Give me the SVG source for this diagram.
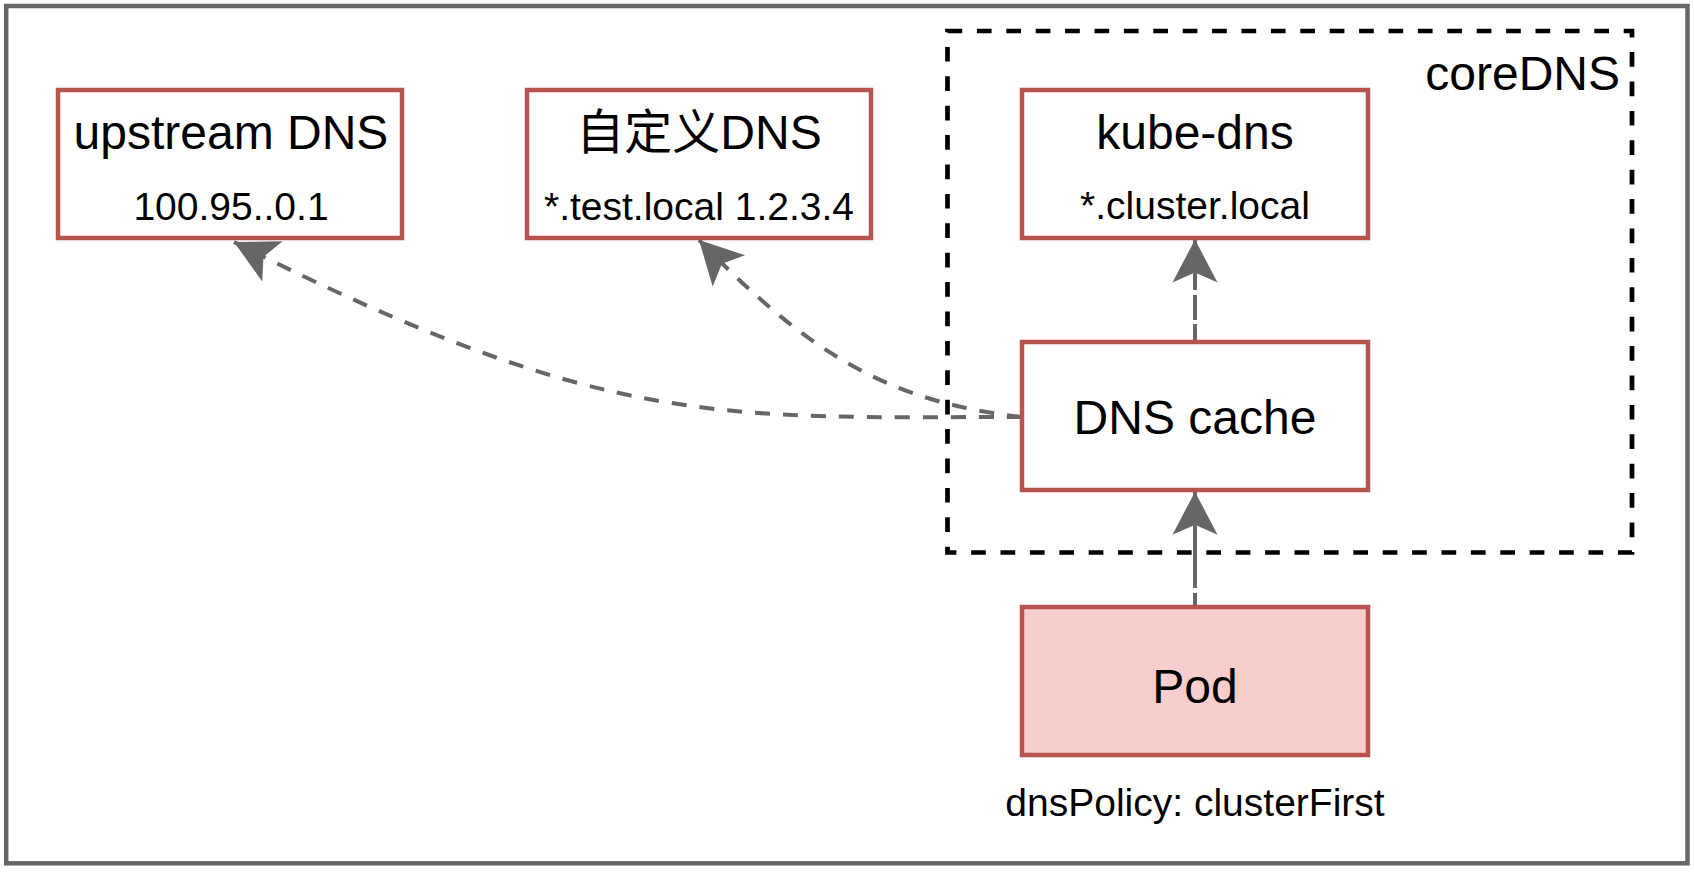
<svg xmlns="http://www.w3.org/2000/svg" width="1694" height="872" viewBox="0 0 1694 872">
<defs>
<style>
.node{fill:#ffffff;stroke:#b85450;stroke-width:4.5}
.pod{fill:#f8cecc;stroke:#b85450;stroke-width:4.5}
.edge{fill:none;stroke:#666666;stroke-width:4}
.dash{stroke-dasharray:15 13}
text{font-family:"Liberation Sans","Noto Sans CJK SC",Arial,sans-serif;fill:#000000;text-anchor:middle}
.t1{font-size:48px}
.t2{font-size:39px}
</style>
<marker id="arrow" markerUnits="userSpaceOnUse" viewBox="-45 -25 47 50" markerWidth="47" markerHeight="50" refX="0" refY="0" orient="auto">
<path d="M0,0 L-43,-22.5 L-33,0 L-43,22.5 Z" fill="#666666"/>
</marker>
</defs>
<rect x="0" y="0" width="1694" height="872" fill="#ffffff"/>
<g id="frame">
<rect x="6.2" y="6" width="1681.3" height="857.3" fill="#ffffff" stroke="#666666" stroke-width="4.5"/>
</g>
<g id="coreDNS">
<rect x="947.5" y="31" width="684.5" height="521.5" fill="none" stroke="#000000" stroke-width="4.7" stroke-dasharray="14.7 14.7"/>
<text class="t1" x="1620" y="90" style="text-anchor:end">coreDNS</text>
</g>
<g id="connectors">
<path id="e-cache-upstream" class="edge dash" d="M1022,417 C722,417 608,431 234,242" marker-end="url(#arrow)"/>
<path id="e-cache-custom" class="edge dash" d="M1022,417 C890,402 810,355 699,240" marker-end="url(#arrow)"/>
<path id="e-cache-kube" class="edge" d="M1195,342 L1195,239.5" stroke-dasharray="18 4 25 5 300 0" marker-end="url(#arrow)"/>
<path id="e-pod-cache" class="edge" d="M1195,607 L1195,491.7" stroke-dasharray="14 5 300 0" marker-end="url(#arrow)"/>
</g>
<g id="upstream-dns">
<rect class="node" x="58" y="90" width="344" height="148"/>
<text class="t1" x="231" y="149">upstream DNS</text>
<text class="t2" x="231" y="220">100.95..0.1</text>
</g>
<g id="custom-dns">
<rect class="node" x="527" y="90" width="344" height="148"/>
<text class="t1" x="699" y="149">自定义DNS</text>
<text class="t2" x="699" y="220">*.test.local 1.2.3.4</text>
</g>
<g id="kube-dns">
<rect class="node" x="1022" y="90" width="346" height="148"/>
<text class="t1" x="1195" y="149">kube-dns</text>
<text class="t2" x="1195" y="219">*.cluster.local</text>
</g>
<g id="dns-cache">
<rect class="node" x="1022" y="342" width="346" height="148"/>
<text class="t1" x="1195" y="434">DNS cache</text>
</g>
<g id="pod">
<rect class="pod" x="1022" y="607" width="346" height="148"/>
<text class="t1" x="1195" y="703">Pod</text>
<text class="t2" x="1195" y="816">dnsPolicy: clusterFirst</text>
</g>
</svg>
